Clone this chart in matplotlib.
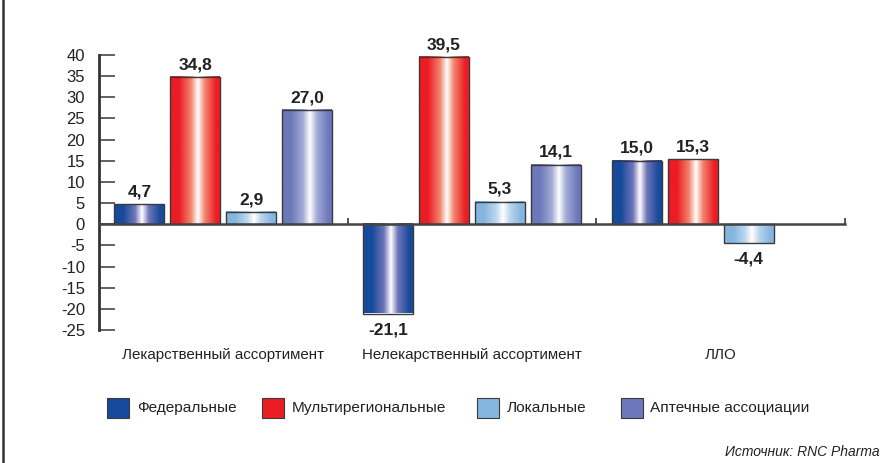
import numpy as np
import matplotlib
matplotlib.use("Agg")
import matplotlib.pyplot as plt
from matplotlib import font_manager
from matplotlib.colors import to_rgb
from matplotlib.patches import Rectangle
from matplotlib.lines import Line2D

# ---- data ----
categories = ["Лекарственный ассортимент", "Нелекарственный ассортимент", "ЛЛО"]
series_names = ["Федеральные", "Мультирегиональные", "Локальные", "Аптечные ассоциации"]
federal = [4.7, -21.1, 15.0]
multiregional = [34.8, 39.5, 15.3]
local = [2.9, 5.3, -4.4]
associations = [27.0, 14.1, np.nan]
series_values = [federal, multiregional, local, associations]
y_ticks = [40, 35, 30, 25, 20, 15, 10, 5, 0, -5, -10, -15, -20, -25]
source_text = "Источник: RNC Pharma"

# ---- styles ----
edge_colors = ["#164a9c", "#ec1c24", "#86b5df", "#6c78ba"]
mid_colors = ["#7074b8", "#f2846e", "#bcd6ee", "#a4acd6"]

available = {f.name for f in font_manager.fontManager.ttflist}
def pick(*names):
    for n in names:
        if n in available:
            return n
    return "DejaVu Sans"

main_font = pick("Liberation Sans Narrow", "Liberation Sans", "Roboto")
num_font = pick("Liberation Sans", "Roboto")
plt.rcParams["font.family"] = [main_font, "DejaVu Sans"]

W, H = 889, 463
fig = plt.figure(figsize=(W / 100, H / 100), dpi=100)
ax = fig.add_axes([99 / W, 1 - 330 / H, (845 - 99) / W, (330 - 55) / H])
ax.set_xlim(-0.5, 2.5)
ax.set_ylim(-25, 40)

n = len(series_names)
pitch = 0.225
width = 0.201
x = np.arange(len(categories))


def gradient_image(c_edge, c_mid, npx=200):
    u = np.linspace(0, 1, npx)
    stops = [0.0, 0.18, 0.42, 0.56, 0.70, 0.93, 1.0]
    e = np.array(to_rgb(c_edge))
    m = np.array(to_rgb(c_mid))
    wht = np.ones(3)
    cols = np.array([e, e, m, wht, m, e, e])
    img = np.stack([np.interp(u, stops, cols[:, k]) for k in range(3)], axis=-1)
    return img[np.newaxis, :, :]


for i, vals in enumerate(series_values):
    vals = np.array(vals, dtype=float)
    xs = x + (i - (n - 1) / 2) * pitch
    mask = ~np.isnan(vals)
    bars = ax.bar(xs[mask], vals[mask], width=width, facecolor="none",
                  edgecolor="#3a3a3a", linewidth=1.0, zorder=4)
    img = gradient_image(edge_colors[i], mid_colors[i])
    for rect, v in zip(bars, vals[mask]):
        x0, y0 = rect.get_x(), rect.get_y()
        w, h = rect.get_width(), rect.get_height()
        ax.imshow(img, extent=[x0, x0 + w, min(y0, y0 + h), max(y0, y0 + h)],
                  aspect="auto", interpolation="bilinear", zorder=3, clip_on=False)
        label = f"{v:.1f}".replace(".", ",")
        if v >= 0:
            ax.annotate(label, (x0 + w / 2, v), xytext=(0, 3.5), textcoords="offset points",
                        ha="center", va="bottom", fontsize=12.5, fontweight="bold",
                        color="#222222", family=num_font, annotation_clip=False, zorder=6)
        else:
            ax.annotate(label, (x0 + w / 2, v), xytext=(0, -6.5), textcoords="offset points",
                        ha="center", va="top", fontsize=12.5, fontweight="bold",
                        color="#222222", family=num_font, annotation_clip=False, zorder=6)

# axes styling
for s in ["top", "right"]:
    ax.spines[s].set_visible(False)
ax.spines["bottom"].set_position(("data", 0))
ax.spines["bottom"].set_color("#444444")
ax.spines["bottom"].set_linewidth(1.8)
ax.spines["bottom"].set_zorder(5)
ax.spines["left"].set_color("#333333")
ax.spines["left"].set_linewidth(2.0)

ax.set_yticks(y_ticks)
ax.set_yticklabels([str(t) for t in y_ticks], family=num_font, fontsize=12, color="#222222")
ax.tick_params(axis="y", direction="in", length=11.5, width=1.3, color="#555555", pad=10)

ax.set_xticks([0.5, 1.5, 2.5])
ax.set_xticklabels([])
ax.tick_params(axis="x", direction="in", length=4, width=1.3, color="#444444")

for xi, cat in zip(x, categories):
    ax.text(xi, -31, cat, ha="center", va="center", fontsize=10.9, color="#222222")

# legend
leg_items = [(107, 137), (262, 292), (477, 507), (621, 650)]
for (px, tx), name, col in zip(leg_items, series_names, edge_colors):
    fig.patches.append(Rectangle((px / W, 1 - 418 / H), 22 / W, 20 / H,
                                 transform=fig.transFigure, facecolor=col,
                                 edgecolor="#3a3a3a", linewidth=0.8))
    fig.text(tx / W, 1 - 408 / H, name, ha="left", va="center", fontsize=11.1, color="#222222")

fig.text(880 / W, 1 - 452 / H, source_text, ha="right", va="center",
         fontsize=10, style="italic", color="#222222")

# left border rule
fig.add_artist(Line2D([3 / W, 3 / W], [0, 1], transform=fig.transFigure,
                      color="#333333", linewidth=1.8))

fig.savefig("out.png", dpi=100)
